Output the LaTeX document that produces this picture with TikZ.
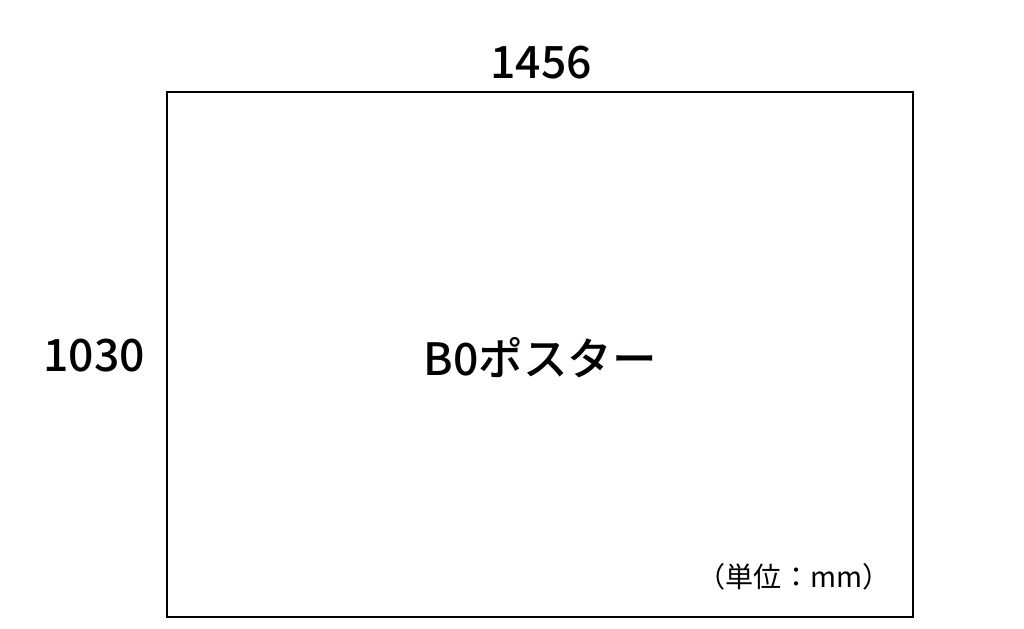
\documentclass[tikz,border=0pt]{standalone}
\usepackage{fontspec}
\setmainfont{Noto Sans CJK JP}[BoldFont={* Bold}]
\newfontfamily\medfont{Noto Sans CJK JP Medium}
\begin{document}
\begin{tikzpicture}[x=0.03cm, y=-0.03cm,
		dimlabel/.style={font=\fontsize{38}{42}\selectfont\medfont, inner sep=0pt},
		posterbox/.style={draw=black, line width=1.3pt}]
		\useasboundingbox (0,0) rectangle (1024,629);
		\draw[posterbox] (167,92) rectangle (913,617);

		\node[dimlabel] (width) at (541,63) {1456};
		\node[dimlabel] (height) at (94,356) {1030};
		\node[dimlabel] (title) at (540,358) {B0ポスター};
		\node[font=\fontsize{24}{27}\selectfont, inner sep=0pt] (unit) at (794,577) {（単位：mm）};
	\end{tikzpicture}
\end{document}
